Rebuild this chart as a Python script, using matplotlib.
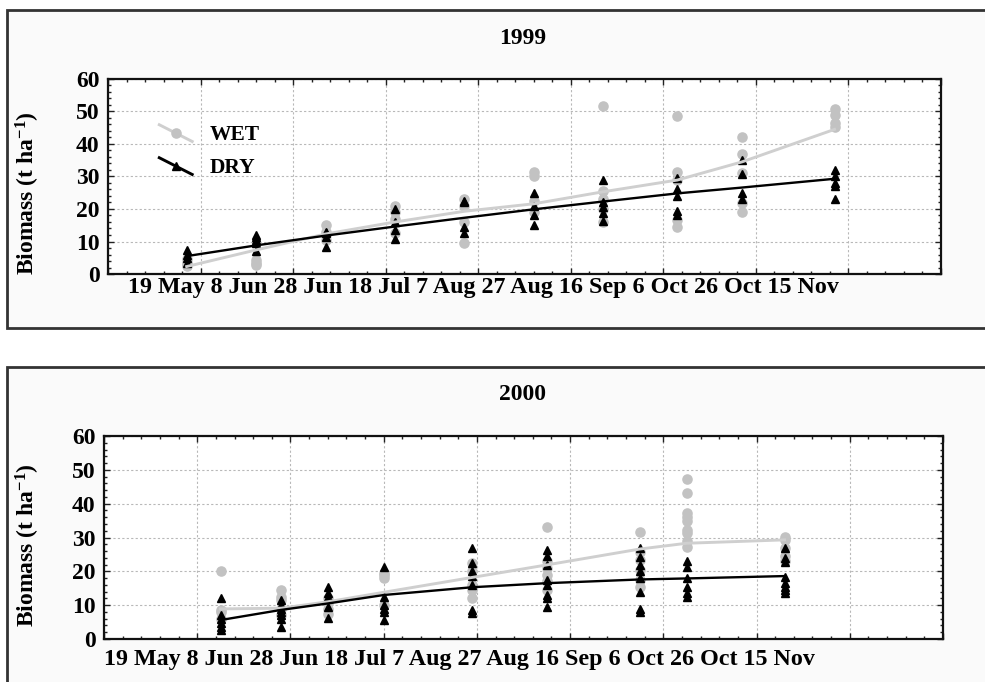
import matplotlib
matplotlib.use("Agg")
import matplotlib.pyplot as plt
import matplotlib.dates as mdates
from matplotlib.lines import Line2D
from matplotlib.patches import Rectangle
from matplotlib.legend_handler import HandlerBase
from matplotlib.ticker import FixedLocator, MultipleLocator
import datetime as dt

plt.rcParams['font.family'] = ['Liberation Serif', 'DejaVu Serif']
plt.rcParams['font.weight'] = 'bold'
plt.rcParams['mathtext.fontset'] = 'custom'
plt.rcParams['mathtext.rm'] = 'Liberation Serif:bold'
plt.rcParams['mathtext.bf'] = 'Liberation Serif:bold'
plt.rcParams['mathtext.it'] = 'Liberation Serif:bold'
plt.rcParams['mathtext.default'] = 'bf'

# ---------------- data ----------------
tick_labels = ["19 May", "8 Jun", "28 Jun", "18 Jul", "7 Aug", "27 Aug",
               "16 Sep", "6 Oct", "26 Oct", "15 Nov"]
y_label = "Biomass (t ha$^{-1}$)"
series_names = ["WET", "DRY"]

dates_1999 = ["1999-06-05", "1999-06-20", "1999-07-05", "1999-07-20", "1999-08-04",
              "1999-08-19", "1999-09-03", "1999-09-19", "1999-10-03", "1999-10-23"]
wet_1999 = [[2.5, 3.0, 3.5, 4.5], [2.8, 3.5, 4.3], [10.5, 12.0, 13.0, 15.0],
            [12.5, 17.0, 19.0, 21.0], [9.6, 16.0, 21.0, 23.0], [19.0, 22.5, 30.0, 31.5],
            [16.0, 20.0, 23.0, 25.5, 51.7], [14.5, 16.5, 29.0, 31.5, 48.7],
            [19.2, 21.7, 31.0, 37.0, 42.0], [45.3, 46.5, 49.0, 50.7]]
dry_1999 = [[3.5, 5.0, 6.0, 7.3], [7.2, 9.5, 10.5, 11.5, 12.0], [8.2, 11.5, 12.5, 13.0],
            [10.8, 13.5, 16.0, 20.0], [12.5, 14.5, 22.0, 22.5], [15.0, 18.0, 21.0, 25.0],
            [16.3, 18.7, 20.5, 22.0, 29.0], [18.0, 19.5, 24.0, 26.0, 29.5],
            [23.0, 25.0, 30.8, 35.0], [23.2, 27.2, 28.0, 30.0, 32.0]]
wet_fit_1999 = [2.3, 7.4, 12.3, 16.0, 19.3, 21.6, 25.3, 28.9, 34.5, 44.5]
dry_fit_1999 = [5.5, 8.8, 11.8, 14.6, 17.3, 19.9, 22.3, 24.8, 26.6, 29.3]

dates_2000 = ["2000-06-13", "2000-06-26", "2000-07-06", "2000-07-18", "2000-08-06",
              "2000-08-22", "2000-09-11", "2000-09-21", "2000-10-12"]
wet_2000 = [[6.0, 8.0, 8.5, 20.0], [7.0, 9.0, 11.5, 12.5, 14.5], [7.5, 9.0, 10.5, 12.0],
            [10.0, 18.0, 19.0, 19.5], [12.0, 14.5, 16.0, 20.0, 22.5],
            [14.5, 17.0, 19.0, 21.0, 23.0, 33.0], [15.5, 17.5, 20.5, 23.3, 25.8, 31.5],
            [27.3, 29.0, 31.2, 32.2, 35.0, 36.2, 37.3, 43.1, 47.3],
            [23.0, 24.5, 27.0, 29.3, 30.2]]
dry_2000 = [[2.8, 3.5, 4.6, 6.0, 7.0, 12.2], [3.4, 6.0, 7.0, 8.0, 9.0, 10.0, 11.5],
            [6.1, 9.5, 12.5, 13.5, 15.5], [5.6, 8.0, 9.0, 10.0, 12.5, 21.4],
            [7.6, 8.6, 16.0, 18.5, 20.0, 22.4, 26.8],
            [9.6, 12.2, 13.0, 16.0, 17.5, 22.0, 24.5, 26.3],
            [8.1, 9.0, 14.0, 18.0, 20.0, 22.0, 24.3, 26.8],
            [12.5, 13.5, 15.5, 18.0, 21.4, 23.0],
            [13.7, 14.5, 15.5, 16.5, 18.4, 22.7, 23.8, 27.0]]
wet_fit_2000 = [8.9, 9.1, 11.0, 13.8, 18.2, 21.9, 26.6, 28.3, 29.3]
dry_fit_2000 = [5.6, 8.6, 10.5, 13.0, 15.3, 16.5, 17.6, 17.9, 18.6]

# ---------------- style ----------------
WET_COL = '#c2c2c2'
WET_LINE = '#cfcfcf'
DRY_COL = '#000000'
FS = 17
FS_X = 17.3


class DiagonalHandler(HandlerBase):
    def create_artists(self, legend, orig_handle, xdescent, ydescent,
                       width, height, fontsize, trans):
        x0 = -xdescent
        x1 = -xdescent + width
        ytop = -ydescent + height * 1.05
        ybot = -ydescent - height * 0.15
        line = Line2D([x0, x1], [ytop, ybot], color=orig_handle.get_color(),
                      lw=orig_handle.get_linewidth(), solid_capstyle='butt')
        mark = Line2D([(x0 + x1) / 2], [(ytop + ybot) / 2], linestyle='none',
                      marker=orig_handle.get_marker(),
                      markersize=orig_handle.get_markersize(),
                      markerfacecolor=orig_handle.get_markerfacecolor(),
                      markeredgecolor=orig_handle.get_markeredgecolor())
        line.set_transform(trans)
        mark.set_transform(trans)
        return [line, mark]


def to_dates(strs):
    return [dt.datetime.strptime(s, "%Y-%m-%d") for s in strs]


def draw_panel(ax, year, dates, wet, dry, wet_fit, dry_fit, show_legend,
               lab_x, lab_y, ylab_xy):
    d = to_dates(dates)
    for xi, vals in zip(d, wet):
        ax.plot([xi] * len(vals), vals, linestyle='none', marker='o', ms=6.6,
                mfc=WET_COL, mec=WET_COL, zorder=3)
    for xi, vals in zip(d, dry):
        ax.plot([xi] * len(vals), vals, linestyle='none', marker='^', ms=6.0,
                mfc=DRY_COL, mec=DRY_COL, zorder=4)
    ax.plot(d, wet_fit, color=WET_LINE, lw=2.1, zorder=5)
    ax.plot(d, dry_fit, color=DRY_COL, lw=1.7, zorder=6)

    start = dt.datetime(year, 5, 19)
    end = dt.datetime(year, 11, 15)
    ax.set_xlim(start, end)
    ax.set_ylim(0, 60)
    majors = [mdates.date2num(start + dt.timedelta(days=20 * k)) for k in range(len(tick_labels))]
    minors = [mdates.date2num(start + dt.timedelta(days=4 * k)) for k in range(46)]
    ax.xaxis.set_major_locator(FixedLocator(majors))
    ax.xaxis.set_minor_locator(FixedLocator(minors))
    ax.xaxis.set_major_formatter(plt.NullFormatter())
    ax.yaxis.set_major_locator(MultipleLocator(10))
    ax.yaxis.set_minor_locator(MultipleLocator(2))
    ax.tick_params(axis='both', which='both', direction='in', top=True, right=True,
                   width=1.0, color='#222222')
    ax.tick_params(axis='both', which='major', length=4)
    ax.tick_params(axis='both', which='minor', length=2.5)
    ax.tick_params(axis='y', labelsize=FS, pad=6)
    for lab in ax.get_yticklabels():
        lab.set_fontweight('bold')
    ax.grid(True, which='major', color='#b8b8b8', linestyle=(0, (2, 2)), lw=0.8)
    for sp in ax.spines.values():
        sp.set_linewidth(1.6)
        sp.set_color('#111111')
    ax.set_facecolor('white')

    ax.text(lab_x, lab_y, " ".join(tick_labels), transform=ax.transAxes,
            fontsize=FS_X, fontweight='bold', ha='left', va='center')
    ax.set_ylabel(y_label, fontsize=FS, fontweight='bold')
    ax.yaxis.set_label_coords(*ylab_xy)

    if show_legend:
        handles = [Line2D([], [], color=WET_LINE, lw=2.1, marker='o', ms=6.6,
                          mfc=WET_COL, mec=WET_COL),
                   Line2D([], [], color=DRY_COL, lw=2.1, marker='^', ms=6.0,
                          mfc=DRY_COL, mec=DRY_COL)]
        ax.legend(handles, series_names, loc='upper left',
                  bbox_to_anchor=(0.060, 0.765), frameon=False,
                  handler_map={Line2D: DiagonalHandler()},
                  handlelength=1.65, handletextpad=0.75, labelspacing=0.6,
                  borderpad=0, borderaxespad=0,
                  prop={'family': 'Liberation Serif', 'weight': 'bold', 'size': 15.5})


W, H = 985, 682
fig = plt.figure(figsize=(W / 100, H / 100), dpi=100)
fig.patch.set_facecolor('white')

# panel frames
for top, bot in [(10, 328), (367, 700)]:
    fig.add_artist(Rectangle((7 / W, 1 - bot / H), 1.2, (bot - top) / H,
                             transform=fig.transFigure, facecolor='#fafafa',
                             edgecolor='#333333', lw=2.0, zorder=0))

ax1 = fig.add_axes([108 / W, 1 - 274 / H, 833 / W, 195 / H])
ax2 = fig.add_axes([104 / W, 1 - 639 / H, 839 / W, 203 / H])

draw_panel(ax1, 1999, dates_1999, wet_1999, dry_1999, wet_fit_1999, dry_fit_1999,
           True, 20 / 833, -14 / 195, (-66 / 833, 81 / 195))
draw_panel(ax2, 2000, dates_2000, wet_2000, dry_2000, wet_fit_2000, dry_fit_2000,
           False, 0.0, -21 / 203, (-62 / 839, 94 / 203))

fig.text(523 / W, 1 - 38 / H, "1999", fontsize=FS, fontweight='bold', ha='center', va='center')
fig.text(522 / W, 1 - 395 / H, "2000", fontsize=FS, fontweight='bold', ha='center', va='center')

fig.savefig("out.png", dpi=100, facecolor='white')
